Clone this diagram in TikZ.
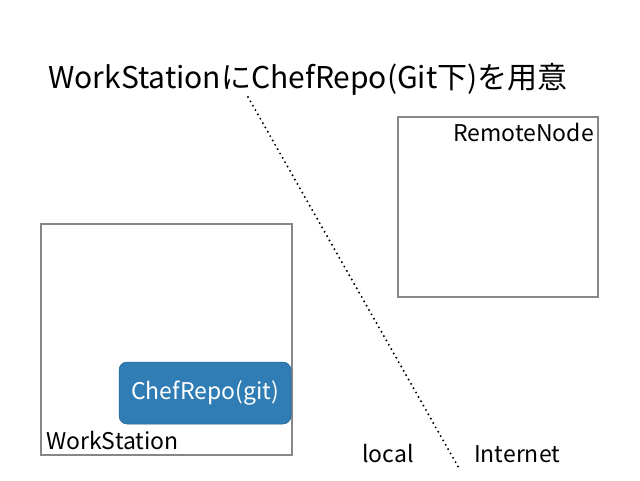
\documentclass[tikz,border=0pt]{standalone}
\usepackage{fontspec}
\setmainfont{Noto Sans CJK JP}
\begin{document}
\begin{tikzpicture}[x=1pt,y=-1pt,
  lbl/.style={inner sep=0pt, font=\fontsize{23}{27}\selectfont},
  repo/.style={fill=repoblue, rounded corners=8pt, draw=repoblue!80!black, line width=0.5pt, text=white, font=\fontsize{23}{27}\selectfont}]
\definecolor{repoblue}{HTML}{2F7DB4}
\definecolor{framegray}{HTML}{85878B}
\useasboundingbox (0,0) rectangle (640,480);
\node[inner sep=0pt, font=\fontsize{30}{34}\selectfont] (title) at (308,79) {WorkStationにChefRepo(Git下)を用意};
\draw[draw=framegray, line width=2pt] (41,224) rectangle (292,455);
\node[lbl, anchor=base west] (ws) at (46,449) {WorkStation};
\draw[draw=framegray, line width=2pt] (398,117) rectangle (598,297);
\node[lbl, anchor=base east] (rn) at (594,141) {RemoteNode};
\node[repo, minimum width=172pt, minimum height=62pt] (repo) at (205,393) {ChefRepo(git)};
\node[lbl, anchor=base west] (local) at (362,462) {local};
\node[lbl, anchor=base west] (inet) at (474,462) {Internet};
\coordinate (dtop) at (248,97);
\coordinate (dbot) at (460,470);
\draw[line width=2.2pt, line cap=round, dash pattern=on 0pt off 5pt] (dtop) -- (dbot);
\end{tikzpicture}
\end{document}
